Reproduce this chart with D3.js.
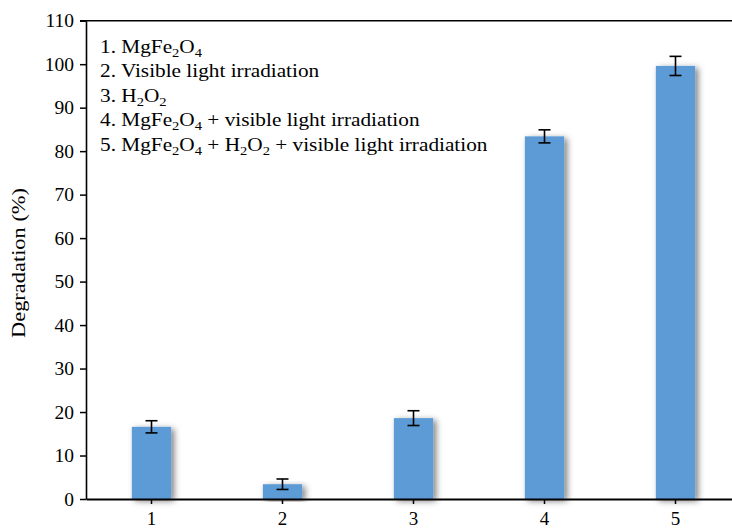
<!DOCTYPE html>
<html>
<head>
<meta charset="utf-8">
<script src="https://cdn.jsdelivr.net/npm/d3@7"></script>
<style>
  html, body { margin: 0; padding: 0; background: #fff; }
  svg { display: block; font-family: "Liberation Serif", "Times New Roman", serif; }
</style>
</head>
<body>
<svg id="chart" width="732" height="530"></svg>
<script>
// Degradation efficiency for each treatment
const categories = ["1", "2", "3", "4", "5"];
const degradation = [16.6, 3.4, 18.6, 83.4, 99.6];
const errors = [1.4, 1.2, 1.7, 1.5, 2.2];
const yTicks = [0, 10, 20, 30, 40, 50, 60, 70, 80, 90, 100, 110];
const legendLines = [
  [["1. MgFe", ""], ["2", "sub"], ["O", ""], ["4", "sub"]],
  [["2. Visible light irradiation", ""]],
  [["3. H", ""], ["2", "sub"], ["O", ""], ["2", "sub"]],
  [["4. MgFe", ""], ["2", "sub"], ["O", ""], ["4", "sub"], [" + visible light irradiation", ""]],
  [["5. MgFe", ""], ["2", "sub"], ["O", ""], ["4", "sub"], [" + H", ""], ["2", "sub"], ["O", ""], ["2", "sub"], [" + visible light irradiation", ""]]
];

const svg = d3.select("#chart");
const plotLeft = 86, plotRight = 741, plotTop = 20.7, plotBottom = 499;

const x = d3.scaleBand().domain(categories).range([plotLeft, plotRight])
  .paddingInner(0.7).paddingOuter(0.35);
const y = d3.scaleLinear().domain([0, 110]).range([plotBottom, plotTop]);

// soft shadow behind the bars
const defs = svg.append("defs");
const f = defs.append("filter").attr("id", "shadow")
  .attr("x", "-50%").attr("y", "-20%").attr("width", "200%").attr("height", "140%");
f.append("feDropShadow").attr("dx", 3).attr("dy", 2).attr("stdDeviation", 3.2)
  .attr("flood-color", "#000").attr("flood-opacity", 0.5);

// top frame line
svg.append("line").attr("x1", plotLeft - 6).attr("x2", 732).attr("y1", plotTop).attr("y2", plotTop)
  .attr("stroke", "#000").attr("stroke-width", 1.5);

// bars
svg.append("g").selectAll("rect").data(categories).join("rect")
  .attr("x", d => x(d))
  .attr("y", (d, i) => y(degradation[i]))
  .attr("width", x.bandwidth())
  .attr("height", (d, i) => plotBottom - y(degradation[i]))
  .attr("fill", "#5B9BD5")
  .attr("filter", "url(#shadow)");

// error bars
const eb = svg.append("g").attr("stroke", "#000").attr("stroke-width", 1.6);
categories.forEach((c, i) => {
  const cx = x(c) + x.bandwidth() / 2;
  const hi = y(degradation[i] + errors[i]), lo = y(degradation[i] - errors[i]);
  eb.append("line").attr("x1", cx).attr("x2", cx).attr("y1", hi).attr("y2", lo);
  eb.append("line").attr("x1", cx - 6).attr("x2", cx + 6).attr("y1", hi).attr("y2", hi);
  eb.append("line").attr("x1", cx - 6).attr("x2", cx + 6).attr("y1", lo).attr("y2", lo);
});

// y axis
const yAxis = svg.append("g").attr("transform", `translate(${plotLeft},0)`)
  .call(d3.axisLeft(y).tickValues(yTicks).tickSize(6).tickPadding(6).tickSizeOuter(0));
yAxis.select(".domain").attr("stroke", "#000").attr("stroke-width", 1.6);
yAxis.selectAll(".tick line").attr("stroke", "#000").attr("stroke-width", 1.5);
yAxis.selectAll(".tick text").attr("font-family", "Liberation Serif, serif")
  .attr("font-size", 19.5).attr("fill", "#000");

// x axis
const xAxis = svg.append("g").attr("transform", `translate(0,${plotBottom})`)
  .call(d3.axisBottom(x).tickSize(5).tickSizeOuter(0));
xAxis.select(".domain").attr("stroke", "#000").attr("stroke-width", 1.8);
xAxis.selectAll(".tick line").attr("stroke", "#000").attr("stroke-width", 1.5);
xAxis.selectAll(".tick text").attr("font-family", "Liberation Serif, serif")
  .attr("font-size", 19).attr("fill", "#000").attr("dy", 0).attr("y", 26);

// y axis title (slightly widened lettering)
svg.append("text")
  .attr("transform", "translate(25,263) rotate(-90) scale(1.15,1)")
  .attr("text-anchor", "middle")
  .attr("font-size", 19.5).attr("fill", "#000")
  .text("Degradation (%)");

// legend with subscripts, lettering widened a little
const legend = svg.append("g").attr("font-size", 19).attr("fill", "#000")
  .attr("transform", "translate(100,0) scale(1.12,1)");
legendLines.forEach((parts, i) => {
  const t = legend.append("text").attr("x", 0).attr("y", 53 + i * 24.4);
  let prevSub = false;
  parts.forEach(([txt, kind]) => {
    const s = t.append("tspan").text(txt);
    if (kind === "sub") {
      s.attr("font-size", 13).attr("dy", prevSub ? 0 : 4);
      prevSub = true;
    } else {
      s.attr("dy", prevSub ? -4 : 0);
      prevSub = false;
    }
  });
});
</script>
</body>
</html>
